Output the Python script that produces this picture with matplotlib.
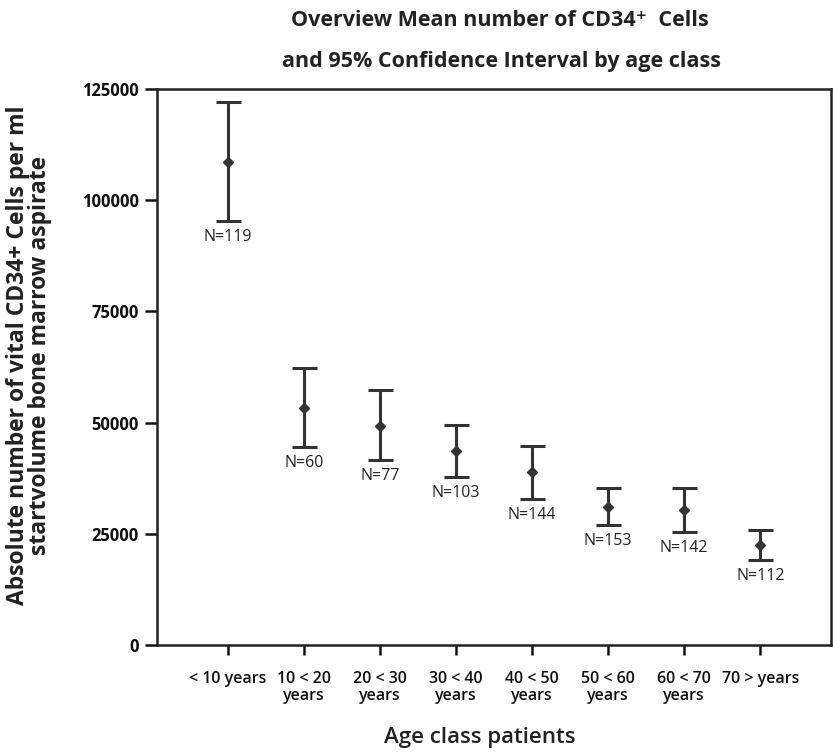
import matplotlib.pyplot as plt
import numpy as np

plt.rcParams['font.family'] = ['Open Sans', 'DejaVu Sans']

age_classes = ['< 10 years', '10 < 20\nyears', '20 < 30\nyears', '30 < 40\nyears',
               '40 < 50\nyears', '50 < 60\nyears', '60 < 70\nyears', '70 > years']
means = [108700, 53200, 49300, 43700, 38800, 31100, 30400, 22500]
ci_low = [95300, 44500, 41600, 37700, 32800, 26900, 25500, 19100]
ci_high = [122000, 62200, 57300, 49400, 44800, 35300, 35300, 25900]
n_counts = [119, 60, 77, 103, 144, 153, 142, 112]

col = '#333333'
x = np.arange(len(age_classes))
means = np.array(means)
yerr = [means - np.array(ci_low), np.array(ci_high) - means]

fig = plt.figure(figsize=(8.33, 7.54), dpi=100)
ax = fig.add_axes([157/833, 1 - 645/754, (831-157)/833, (645-89)/754])

ax.errorbar(x, means, yerr=yerr, fmt='D', color=col, ecolor=col, markersize=5,
            elinewidth=2.2, capsize=9, capthick=2.2)

for xi, lo, n in zip(x, ci_low, n_counts):
    ax.annotate(f'N={n}', (xi, lo), xytext=(0, -11.5), textcoords='offset points',
                ha='center', va='center', fontsize=11.5, color='#222222')

ax.set_xlim(-0.934, 7.93)
ax.set_ylim(0, 125000)
ax.set_yticks([0, 25000, 50000, 75000, 100000, 125000])
ax.set_yticklabels(['0', '25000', '50000', '75000', '100000', '125000'],
                   fontweight='bold', fontsize=12)
ax.set_xticks(x)
ax.set_xticklabels(age_classes, fontsize=11.5, fontweight='semibold', linespacing=1.05)
ax.tick_params(axis='x', length=7, width=1.8, pad=12, colors='#111111')
ax.tick_params(axis='y', length=9, width=1.8, pad=4, colors='#111111')
for s in ax.spines.values():
    s.set_linewidth(1.8)
    s.set_color('#222222')

fig.text(500/833, 1 - 20/754, 'Overview Mean number of CD34\u207a  Cells',
         ha='center', va='center', fontsize=15.5, fontweight='bold', color='#222222')
fig.text(502/833, 1 - 62/754, 'and 95% Confidence Interval by age class',
         ha='center', va='center', fontsize=15.5, fontweight='bold', color='#222222')
fig.text(29/833, 1 - 355/754,
         'Absolute number of vital CD34+ Cells per ml\nstartvolume bone marrow aspirate',
         rotation=90, ha='center', va='center', fontsize=16.5, fontweight='bold',
         color='#222222', linespacing=0.85)
fig.text(480/833, 1 - 738/754, 'Age class patients', ha='center', va='center',
         fontsize=16, fontweight='semibold', color='#222222')

fig.savefig('out.png', dpi=100)
